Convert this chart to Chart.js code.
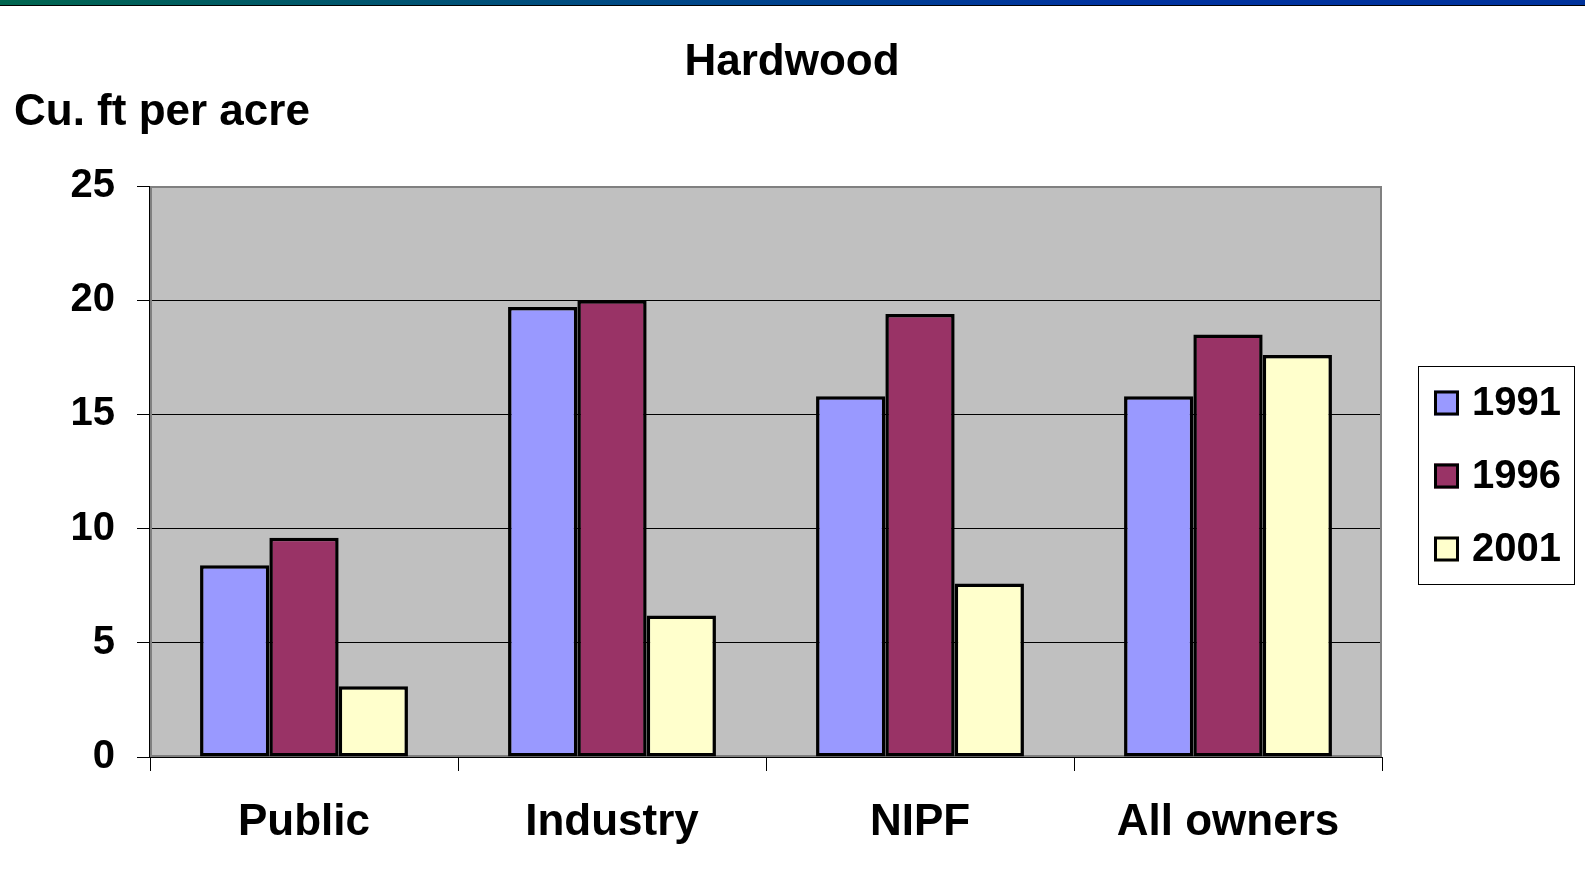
<!DOCTYPE html>
<html>
<head>
<meta charset="utf-8">
<script src="https://cdn.jsdelivr.net/npm/chart.js@4/dist/chart.umd.min.js"></script>
<style>
  html, body { margin: 0; padding: 0; background: #ffffff; }
  #wrap { position: relative; width: 1585px; height: 895px; overflow: hidden; }
  #topbar { position: absolute; left: 0; top: 0; width: 1585px; height: 5px;
    background: linear-gradient(to right, #00664f 0%, #004a86 40%, #0033a0 70%, #00339c 100%);
    border-bottom: 1px solid #000; z-index: 2; }
  canvas { position: absolute; left: 0; top: 0; }
</style>
</head>
<body>
<div id="wrap">
  <div id="topbar"></div>
  <canvas id="c" width="1585" height="895"></canvas>
</div>
<script>
// ---- data ----
const chartTitle = "Hardwood";
const yAxisTitle = "Cu. ft per acre";
const categories = ["Public", "Industry", "NIPF", "All owners"];
const seriesLabels = ["1991", "1996", "2001"];
const values1991 = [8.4, 19.7, 15.8, 15.8];
const values1996 = [9.6, 20.0, 19.4, 18.5];
const values2001 = [3.1, 6.2, 7.6, 17.6];
const yTicks = [0, 5, 10, 15, 20, 25];

const FONT = "'Liberation Sans', Arial, 'DejaVu Sans', sans-serif";
const colors = ["#9999FF", "#993366", "#FFFFCC"];

const plotDecor = {
  id: 'plotDecor',
  beforeDraw(chart) {
    const a = chart.chartArea, ctx = chart.ctx;
    ctx.save();
    ctx.fillStyle = '#C0C0C0';
    ctx.fillRect(a.left, a.top, a.right - a.left, a.bottom - a.top);
    ctx.restore();
  },
  beforeDatasetsDraw(chart) {
    const a = chart.chartArea, ctx = chart.ctx;
    ctx.save();
    ctx.strokeStyle = '#808080';
    ctx.lineWidth = 2;
    ctx.strokeRect(a.left + 1, a.top + 1, a.right - a.left - 2, a.bottom - a.top - 2);
    ctx.strokeStyle = '#000';
    ctx.lineWidth = 1;
    ctx.beginPath();
    ctx.moveTo(a.left - 0.5, a.top);
    ctx.lineTo(a.left - 0.5, a.bottom + 1);
    ctx.moveTo(a.left - 1, a.bottom + 0.5);
    ctx.lineTo(a.right, a.bottom + 0.5);
    ctx.stroke();
    ctx.restore();
  },
  afterDraw(chart) {
    const a = chart.chartArea, ctx = chart.ctx;
    ctx.save();
    // titles
    ctx.fillStyle = '#000';
    ctx.textBaseline = 'alphabetic';
    ctx.font = "bold 44px " + FONT;
    ctx.textAlign = 'center';
    ctx.fillText(chartTitle, 792, 75);
    ctx.textAlign = 'left';
    ctx.fillText(yAxisTitle, 14, 125);
    // legend
    const lx = a.right + 36, ly = 366, lw = 156, lh = 218;
    ctx.strokeStyle = '#000';
    ctx.lineWidth = 1;
    ctx.strokeRect(lx + 0.5, ly + 0.5, lw, lh);
    const rows = [403, 476, 549];
    ctx.font = "bold 40px " + FONT;
    ctx.textBaseline = 'middle';
    chart.data.datasets.forEach((ds, i) => {
      const cy = rows[i];
      const sx = lx + 16, s = 25;
      ctx.fillStyle = ds.backgroundColor;
      ctx.fillRect(sx, cy - s / 2, s, s);
      ctx.lineWidth = 3;
      ctx.strokeStyle = '#000';
      ctx.strokeRect(sx + 1.5, cy - s / 2 + 1.5, s - 3, s - 3);
      ctx.fillStyle = '#000';
      ctx.fillText(ds.label, lx + 54, cy + 1);
    });
    ctx.restore();
  }
};

const datasets = [values1991, values1996, values2001].map((v, i) => ({
  label: seriesLabels[i],
  data: v,
  backgroundColor: colors[i],
  borderColor: '#000',
  borderWidth: 3.5,
  borderSkipped: false,
  categoryPercentage: 0.675,
  barPercentage: 1.0
}));

new Chart(document.getElementById('c'), {
  type: 'bar',
  data: { labels: categories, datasets },
  options: {
    responsive: false,
    animation: false,
    devicePixelRatio: 1,
    layout: { padding: { top: 186, right: 203, bottom: 0, left: 0 } },
    plugins: { legend: { display: false }, title: { display: false }, tooltip: { enabled: false } },
    scales: {
      x: {
        grid: { display: true, drawOnChartArea: false, drawTicks: true, tickLength: 14, tickColor: '#000', offset: true },
        border: { display: false },
        ticks: { color: '#000', font: { family: FONT, size: 44, weight: 'bold' }, padding: 25, maxRotation: 0 },
        afterFit(scale) { scale.height = 138; }
      },
      y: {
        min: 0, max: 25,
        afterBuildTicks(scale) { scale.ticks = yTicks.map(v => ({ value: v })); },
        grid: { color: '#000', lineWidth: 1, tickLength: 13, tickColor: '#000' },
        border: { display: false },
        ticks: { color: '#000', font: { family: FONT, size: 40, weight: 'bold' }, padding: 22 },
        afterFit(scale) { scale.width = 150; }
      }
    }
  },
  plugins: [plotDecor]
});
</script>
</body>
</html>
